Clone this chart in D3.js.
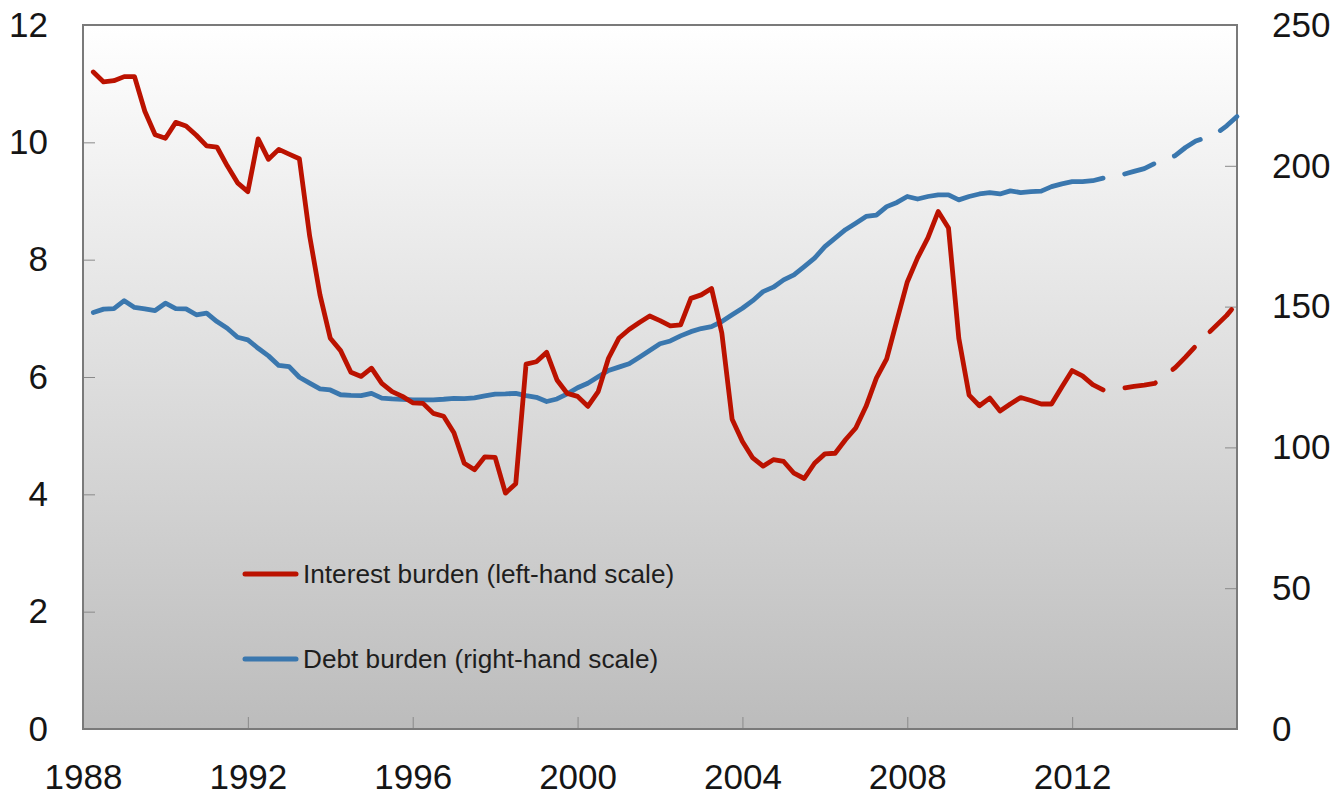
<!DOCTYPE html>
<html>
<head>
<meta charset="utf-8">
<script src="https://cdn.jsdelivr.net/npm/d3@7"></script>
<style>
  html, body { margin: 0; padding: 0; background: #fff; }
  svg { display: block; font-family: "Liberation Sans", Arial, sans-serif; }
</style>
</head>
<body>
<div id="chart"></div>
<script>
// Quarterly data, 1988Q1 onwards (plotted at quarter end)
const startYear = 1988;

// Interest burden, per cent (left-hand scale)
const interestActual = [
  11.20, 11.03, 11.05, 11.12, 11.12, 10.53, 10.13, 10.07, 10.34, 10.28,
  10.12, 9.94, 9.92, 9.60, 9.31, 9.16, 10.06, 9.71, 9.88, 9.80,
  9.72, 8.40, 7.40, 6.66, 6.45, 6.08, 6.01, 6.15, 5.89, 5.75,
  5.67, 5.56, 5.55, 5.38, 5.33, 5.05, 4.53, 4.42, 4.64, 4.63,
  4.02, 4.18, 6.22, 6.26, 6.42, 5.95, 5.72, 5.67, 5.50, 5.75,
  6.32, 6.66, 6.81, 6.93, 7.04, 6.96, 6.87, 6.89, 7.34, 7.40,
  7.51, 6.75, 5.28, 4.90, 4.62, 4.48, 4.59, 4.56, 4.36, 4.27,
  4.53, 4.69, 4.70, 4.93, 5.13, 5.50, 5.98, 6.31, 6.97, 7.62,
  8.03, 8.37, 8.82, 8.54, 6.66, 5.69, 5.51, 5.64, 5.42, 5.54,
  5.65, 5.60, 5.54, 5.54, 5.83, 6.11, 6.02, 5.87, 5.78
];
const interestForecast = [
  5.79, 5.81, 5.84, 5.86, 5.89, 6.02, 6.16, 6.34, 6.53, 6.71,
  6.88, 7.05, 7.26
];

// Debt burden, per cent (right-hand scale)
const debtActual = [
  147.9, 149.1, 149.3, 152.1, 149.7, 149.2, 148.6, 151.2, 149.3, 149.2,
  147.1, 147.7, 144.7, 142.3, 139.1, 138.2, 135.2, 132.5, 129.1, 128.7,
  124.9, 122.8, 120.8, 120.4, 118.7, 118.5, 118.4, 119.2, 117.5, 117.2,
  117.1, 116.9, 116.9, 116.9, 117.1, 117.4, 117.3, 117.6, 118.3, 118.9,
  119.0, 119.2, 118.4, 117.8, 116.3, 117.2, 119.0, 121.2, 122.8, 125.1,
  127.3, 128.5, 129.7, 132.0, 134.4, 136.8, 137.8, 139.6, 141.1, 142.2,
  142.9, 144.7, 147.1, 149.4, 152.1, 155.3, 156.9, 159.5, 161.3, 164.2,
  167.2, 171.3, 174.3, 177.3, 179.6, 182.0, 182.5, 185.5, 187.0, 189.1,
  188.2, 189.1, 189.7, 189.7, 187.9, 189.1, 190.0, 190.5, 190.0, 191.1,
  190.5, 190.8, 191.0, 192.6, 193.6, 194.4, 194.4, 194.7, 195.6
];
const debtForecast = [
  196.3, 197.0, 198.0, 199.0, 200.8, 202.0, 203.6, 206.5, 208.8, 210.0,
  211.5, 214.2, 217.5
];

const xTicks = [1988, 1992, 1996, 2000, 2004, 2008, 2012];
const leftTicks = [0, 2, 4, 6, 8, 10, 12];
const rightTicks = [0, 50, 100, 150, 200, 250];
const legendLabels = ["Interest burden (left-hand scale)", "Debt burden (right-hand scale)"];

const W = 1339, H = 795;
const plot = { left: 83, right: 1237, top: 25, bottom: 729 };
const red = "#bb1200", blue = "#3a77ae";

const svg = d3.select("#chart").append("svg")
  .attr("width", W).attr("height", H);

const x = d3.scaleLinear().domain([1988, 2016]).range([plot.left, plot.right]);
const yL = d3.scaleLinear().domain([0, 12]).range([plot.bottom, plot.top]);
const yR = d3.scaleLinear().domain([0, 250]).range([plot.bottom, plot.top]);

// Background gradient
const defs = svg.append("defs");
const grad = defs.append("linearGradient")
  .attr("id", "bg").attr("x1", 0).attr("y1", 0).attr("x2", 0).attr("y2", 1);
grad.append("stop").attr("offset", "0%").attr("stop-color", "#ffffff");
grad.append("stop").attr("offset", "100%").attr("stop-color", "#bcbcbc");

svg.append("rect")
  .attr("x", plot.left).attr("y", plot.top)
  .attr("width", plot.right - plot.left).attr("height", plot.bottom - plot.top)
  .attr("fill", "url(#bg)");

// Axes (ticks point inward)
function styleAxis(g) {
  g.select(".domain").remove();
  g.selectAll(".tick line").attr("stroke", "#8a8a8a").attr("stroke-width", 1);
  g.selectAll(".tick text").attr("fill", "#151515").attr("font-size", 35);
}

svg.append("g")
  .attr("transform", `translate(${plot.left},0)`)
  .call(d3.axisLeft(yL).tickValues(leftTicks).tickSize(-12).tickPadding(35))
  .call(styleAxis);

svg.append("g")
  .attr("transform", `translate(${plot.right},0)`)
  .call(d3.axisRight(yR).tickValues(rightTicks).tickSize(-12).tickPadding(35))
  .call(styleAxis);

svg.append("g")
  .attr("transform", `translate(0,${plot.bottom})`)
  .call(d3.axisBottom(x).tickValues(xTicks).tickFormat(d3.format("d")).tickSize(-12).tickPadding(35))
  .call(styleAxis);

// Plot frame
svg.append("rect")
  .attr("x", plot.left).attr("y", plot.top)
  .attr("width", plot.right - plot.left).attr("height", plot.bottom - plot.top)
  .attr("fill", "none").attr("stroke", "#7a7a7a").attr("stroke-width", 2);

// Series
const toPoints = (arr, offset) => arr.map((v, i) => ({ t: startYear + (i + offset + 1) / 4, v }));

function drawSeries(actual, forecast, yScale, color) {
  const line = d3.line().x(d => x(d.t)).y(d => yScale(d.v));
  const solid = toPoints(actual, 0);
  const dashed = [solid[solid.length - 1]].concat(toPoints(forecast, actual.length));
  svg.append("path")
    .datum(solid)
    .attr("d", line)
    .attr("fill", "none").attr("stroke", color).attr("stroke-width", 4.8)
    .attr("stroke-linejoin", "round").attr("stroke-linecap", "round");
  svg.append("path")
    .datum(dashed)
    .attr("d", line)
    .attr("fill", "none").attr("stroke", color).attr("stroke-width", 4.8)
    .attr("stroke-linejoin", "round").attr("stroke-linecap", "round")
    .attr("stroke-dasharray", "31,22").attr("stroke-dashoffset", 31);
}

drawSeries(debtActual, debtForecast, yR, blue);
drawSeries(interestActual, interestForecast, yL, red);

// Legend
const legend = svg.append("g").selectAll("g")
  .data([{ label: legendLabels[0], color: red, y: 574 }, { label: legendLabels[1], color: blue, y: 659 }])
  .join("g");
legend.append("line")
  .attr("x1", 245).attr("x2", 296)
  .attr("y1", d => d.y).attr("y2", d => d.y)
  .attr("stroke", d => d.color).attr("stroke-width", 5).attr("stroke-linecap", "round");
legend.append("text")
  .attr("x", 303).attr("y", d => d.y).attr("dy", "0.35em")
  .attr("font-size", 26.2).attr("fill", "#1e1e1e")
  .text(d => d.label);
</script>
</body>
</html>
